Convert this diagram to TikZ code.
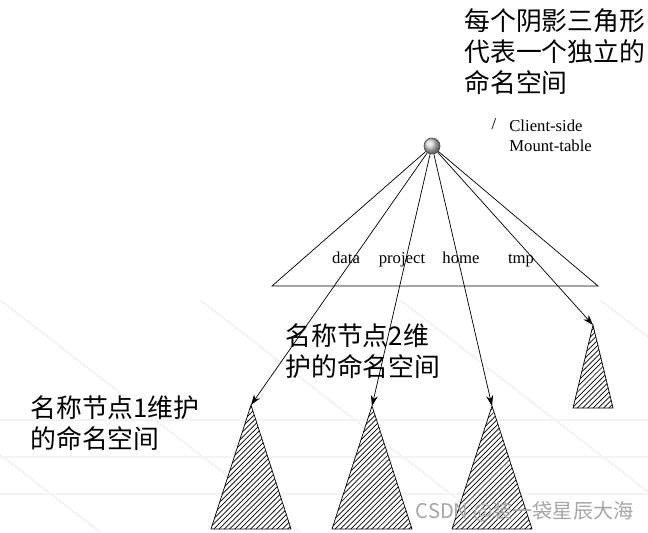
\documentclass[tikz,border=0pt]{standalone}
\usepackage{fontspec}
\setmainfont{Liberation Serif}
\newfontfamily\cjk{Noto Sans CJK SC}
\usetikzlibrary{patterns,arrows.meta}

\tikzset{
  cjktext/.style={inner sep=0pt,align=left,anchor=north west,font=\cjk\fontsize{14.7}{17.6}\selectfont},
  dirname/.style={anchor=base,inner sep=0pt,font=\fontsize{9.5}{11}\selectfont},
  mount/.style={thin,-{Stealth[length=6pt,width=4pt]}},
  subtree/.style={draw,pattern=north east lines}
}

\begin{document}
\begin{tikzpicture}[x=0.02cm,y=-0.02cm]
\useasboundingbox (0,0) rectangle (648,532);
% faint backdrop
\foreach \yy in {420,457,494} \draw[gray!9,line width=1.2pt] (0,\yy) -- (648,\yy);
\foreach \xx in {-200,0,200,400,600} \draw[gray!9,line width=1.2pt] (\xx,300) -- (\xx+300,532);

% mount table
\coordinate (bl) at (272,286);
\coordinate (br) at (598,286);
\node[circle,draw=gray!60!black,ball color=gray!35,inner sep=0pt,minimum size=0.32cm] (root) at (432,146) {};
\draw (root) -- (bl) -- (br) -- (root);
\node[dirname] (data) at (346,263) {data};
\node[dirname] (project) at (402,263) {project};
\node[dirname] (home) at (461,263) {home};
\node[dirname] (tmp) at (521,263) {tmp};

% namespaces
\coordinate (nsa) at (251,405);
\coordinate (nsb) at (372,406);
\coordinate (nsc) at (492,406);
\coordinate (nsd) at (593,325);
\draw[subtree] (nsa) -- ++(-40,124) -- ++(80,0) -- cycle;
\draw[subtree] (nsb) -- ++(-40,123) -- ++(80,0) -- cycle;
\draw[subtree] (nsc) -- ++(-40,123) -- ++(80,0) -- cycle;
\draw[subtree] (nsd) -- ++(-20,83) -- ++(40,0) -- cycle;
\draw[mount] (root) -- (nsa);
\draw[mount] (root) -- (nsb);
\draw[mount] (root) -- (nsc);
\draw[mount] (root) -- (nsd);

% labels
\node[cjktext] (note) at (464,8) {每个阴影三角形\\代表一个独立的\\命名空间};
\node[dirname] (slash) at (494,129) {/};
\node[dirname,anchor=north west,align=left] (mt) at (509,120) {Client-side\\Mount-table};
\node[cjktext] (nn2) at (285,323) {名称节点2维\\护的命名空间};
\node[cjktext] (nn1) at (30,395) {名称节点1维护\\的命名空间};
\node[gray!70,font=\cjk\fontsize{11.5}{13}\selectfont,anchor=east,inner sep=0pt] (mark) at (634,512) {CSDN @装一袋星辰大海};
\end{tikzpicture}
\end{document}
